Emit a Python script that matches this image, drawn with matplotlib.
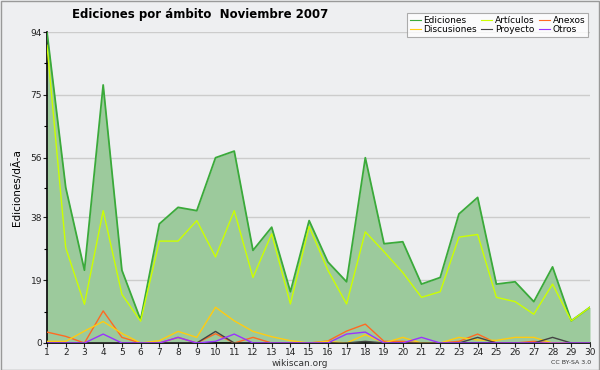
import matplotlib
matplotlib.use("Agg")
import matplotlib.pyplot as plt
import numpy as np

days = list(range(1, 31))
ediciones = [94, 47, 22, 78, 22, 7, 36, 41, 40, 56, 58, 28, 35, 15.5, 37, 24.5, 18.5, 56, 30, 30.6,
             17.8, 19.8, 39, 44, 17.8, 18.5, 12.5, 23, 6.7, 10.8]
articulos = [90, 28.8, 11.7, 40, 14.7, 6.6, 30.8, 30.8, 37, 26, 40, 19.8, 33, 11.8, 35.2, 22, 11.8, 33.6,
             27.6, 21.3, 13.8, 15.5, 32, 32.8, 13.8, 12.5, 8.7, 17.8, 6.7, 10.8]
anexos = [3.3, 2, 0, 9.7, 1.7, 0, 0, 1.7, 0, 2.8, 0, 1.7, 0, 0, 0, 0.6, 3.6, 5.7, 0.5, 0.5,
          0, 0, 0.5, 2.7, 0, 0, 0.5, 0, 0, 0]
discusiones = [0.5, 0.5, 3.6, 6.5, 2.9, 0, 0.7, 3.5, 1.7, 10.8, 6.7, 3.5, 1.9, 0.7, 0, 0.5, 0, 2.5,
               0, 1.7, 0, 0, 1.7, 0.9, 0.8, 1.7, 1.7, 0, 0, 0]
proyecto = [0, 0, 0, 0, 0, 0, 0, 0, 0, 3.5, 0, 0, 0, 0, 0, 0, 0, 0.5, 0, 0,
            0, 0, 0, 1.7, 0, 0, 0, 1.7, 0, 0]
otros = [0, 0, 0, 2.7, 0, 0, 0, 1.7, 0, 0.5, 2.7, 0, 0, 0, 0, 0, 2.7, 3.3, 0, 0,
         1.7, 0, 0, 0, 0, 0, 0, 0, 0, 0]
yticks = [0, 19, 38, 56, 75, 94]

fig = plt.figure(figsize=(6, 3.7), dpi=100, facecolor="#eeeff1")
ax = fig.add_axes([47/600, 27/370, 543/600, 311/370])
ax.set_facecolor("#eeeff1")

ax.fill_between(days, 0, ediciones, color="#9cca9c", zorder=1, linewidth=0)
l1, = ax.plot(days, ediciones, color="#3aaa3a", lw=1.3, zorder=3, label="Ediciones")
l2, = ax.plot(days, articulos, color="#ccff00", lw=1.0, zorder=4, label="Artículos")
l3, = ax.plot(days, anexos, color="#ff6a22", lw=1.0, zorder=5, label="Anexos")
l4, = ax.plot(days, discusiones, color="#ffcc11", lw=1.0, zorder=5, label="Discusiones")
l5, = ax.plot(days, proyecto, color="#444444", lw=1.0, zorder=6, label="Proyecto")
l6, = ax.plot(days, otros, color="#9933ff", lw=1.0, zorder=7, label="Otros")

ax.set_xlim(1, 30)
ax.set_ylim(0, 94)
ax.set_xticks(days)
ax.set_xticklabels([str(d) for d in days], fontsize=6.5)
ax.set_yticks(yticks)
ax.set_yticklabels([str(v) for v in yticks], fontsize=6.5)
ax.set_yticks([(a + b) / 2 for a, b in zip(yticks[:-1], yticks[1:])], minor=True)
ax.tick_params(axis="both", direction="out", length=3, width=0.8, pad=0.5, colors="#222222")
ax.tick_params(axis="y", which="minor", length=2, width=0.8)
ax.yaxis.grid(True, color="#cccccc", lw=1.0, zorder=0)
ax.set_axisbelow(True)
for s in ["top", "right"]:
    ax.spines[s].set_visible(False)
ax.spines["left"].set_linewidth(1.2)
ax.spines["bottom"].set_linewidth(1.2)

ax.set_ylabel("Ediciones/dÃ-a", fontsize=7.5, labelpad=6)

fig.text(0.333, 0.962, "Ediciones por ámbito  Noviembre 2007", ha="center", va="center",
         fontsize=8.5, fontweight="bold")

leg = fig.legend([l1, l4, l2, l5, l3, l6],
                 ["Ediciones", "Discusiones", "Artículos", "Proyecto", "Anexos", "Otros"],
                 ncol=3, loc="upper right", bbox_to_anchor=(593/600, 1 - 8/370),
                 fontsize=6.5, frameon=True, fancybox=False, handlelength=1.2,
                 handletextpad=0.3, columnspacing=0.5, labelspacing=0.05,
                 borderpad=0.35)
leg.get_frame().set_edgecolor("#999999")
leg.get_frame().set_facecolor("#ffffff")
leg.get_frame().set_linewidth(0.8)
for h in leg.get_lines():
    h.set_linewidth(0.8)

fig.text(0.5, 1 - 363/370, "wikiscan.org", ha="center", va="center", fontsize=6.5, color="#333333")
fig.text(0.985, 1 - 363/370, "CC BY-SA 3.0", ha="right", va="center", fontsize=4.5, color="#333333")

border = plt.Rectangle((0.001, 0.001), 0.997, 0.996, transform=fig.transFigure,
                       fill=False, edgecolor="#999999", lw=1.0)
fig.add_artist(border)

fig.savefig("out.png", dpi=100, facecolor=fig.get_facecolor())
